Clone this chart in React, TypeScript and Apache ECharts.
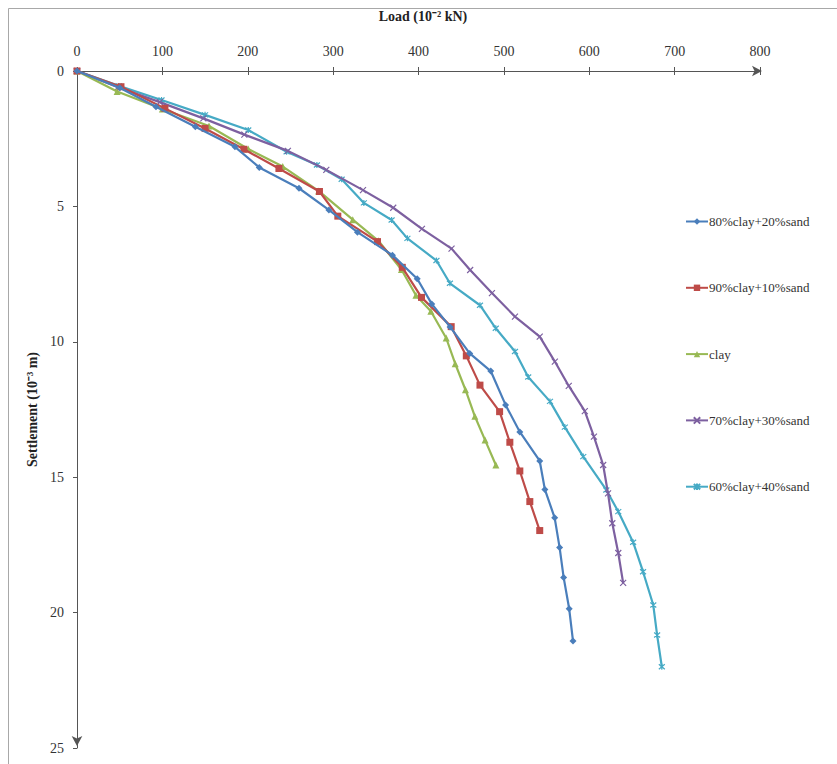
import React, { useEffect, useRef } from "react";
import * as echarts from "echarts";

const loadTicks = [0, 100, 200, 300, 400, 500, 600, 700, 800];
const settlementTicks = [0, 5, 10, 15, 20, 25];

const names = ["80%clay+20%sand", "90%clay+10%sand", "clay", "70%clay+30%sand", "60%clay+40%sand"];

const load80 = [0, 50, 92.5, 138.6, 185, 213.5, 260, 295, 328.5, 369.5, 398.5, 415.5, 437, 460, 484.6, 502, 518.7, 542, 548, 559.5, 565.3, 570, 576.5, 581];
const settle80 = [0, 0.62, 1.32, 2.06, 2.8, 3.56, 4.33, 5.13, 5.95, 6.8, 7.67, 8.6, 9.45, 10.43, 11.08, 12.33, 13.33, 14.4, 15.45, 16.5, 17.6, 18.7, 19.86, 21.05];

const load90 = [0, 51.5, 103, 150, 195.5, 236.5, 284, 305.5, 352, 381, 403.5, 438.3, 456, 472, 495, 507, 518.7, 530.4, 542];
const settle90 = [0, 0.58, 1.38, 2.12, 2.89, 3.6, 4.45, 5.36, 6.3, 7.25, 8.36, 9.44, 10.52, 11.6, 12.58, 13.71, 14.77, 15.9, 16.97];

const loadClay = [0, 47, 100, 154.6, 200.6, 241, 283, 323, 353, 380, 397, 414.5, 432.4, 443, 455, 466, 478, 490.6];
const settleClay = [0, 0.76, 1.4, 2.03, 2.88, 3.53, 4.43, 5.49, 6.27, 7.33, 8.28, 8.87, 9.86, 10.81, 11.77, 12.75, 13.63, 14.55];

const load70 = [0, 48, 97, 148, 196, 247, 292, 335, 370.4, 404, 438.7, 460.5, 486, 513, 542, 559.7, 576, 594.8, 605.5, 616.3, 622, 627, 634, 639.7];
const settle70 = [0, 0.6, 1.15, 1.75, 2.35, 2.95, 3.65, 4.4, 5.05, 5.83, 6.56, 7.35, 8.2, 9.07, 9.81, 10.73, 11.63, 12.56, 13.5, 14.55, 15.6, 16.7, 17.8, 18.9];

const load60 = [0, 49, 99, 150, 200.6, 245.5, 281, 310, 336, 368.5, 387, 421, 436.8, 472, 490.5, 513, 528.5, 554, 571.4, 593, 620, 634, 651.4, 663, 675, 679.5, 685];
const settle60 = [0, 0.55, 1.07, 1.62, 2.18, 2.98, 3.47, 4.0, 4.87, 5.5, 6.18, 7.0, 7.84, 8.65, 9.5, 10.36, 11.3, 12.2, 13.15, 14.24, 15.47, 16.27, 17.4, 18.49, 19.72, 20.83, 22.0];

const colors = ["#4A7EBB", "#BE4B48", "#98B954", "#7D60A0", "#46AAC5"];

const pairs = (xs: number[], ys: number[]) => xs.map((x, i) => [x, ys[i]]);

const xMark = "path://M0,0L10,10M10,0L0,10";
const starMark = "path://M0,0L10,10M10,0L0,10M5,-1L5,11";

export default function App() {
  const ref = useRef<HTMLDivElement>(null);
  useEffect(() => {
    if (!ref.current) return;
    const chart = echarts.init(ref.current, undefined, { renderer: "svg" });
    const font = "'Liberation Serif', 'Times New Roman', serif";
    const seriesData = [
      { d: pairs(load80, settle80), symbol: "diamond", size: 7, stroke: false },
      { d: pairs(load90, settle90), symbol: "rect", size: 7, stroke: false },
      { d: pairs(loadClay, settleClay), symbol: "triangle", size: 7, stroke: false },
      { d: pairs(load70, settle70), symbol: xMark, size: 6, stroke: true },
      { d: pairs(load60, settle60), symbol: starMark, size: 6, stroke: true },
    ];
    chart.setOption({
      animation: false,
      backgroundColor: "#fff",
      color: colors,
      textStyle: { fontFamily: font },
      grid: { left: 77, right: 77, top: 71, bottom: 16, containLabel: false },
      graphic: [
        {
          type: "polyline",
          shape: { points: [[8.5, 900], [8.5, 8.5], [900, 8.5]] },
          style: { fill: "none", stroke: "#a8a8a8", lineWidth: 1 },
          silent: true,
          z: 0,
        },
      ],
      title: [
        {
          text: "Load (10⁻² kN)",
          left: 418,
          top: 4,
          textAlign: "center",
          textStyle: { fontFamily: font, fontSize: 14, fontWeight: "bold", color: "#222" },
        },
      ],
      legend: {
        orient: "vertical",
        left: 680,
        top: 210,
        itemGap: 53.3,
        itemWidth: 22,
        itemHeight: 8,
        data: names,
        textStyle: { fontFamily: font, fontSize: 13, color: "#333", padding: [0, 0, 0, -4] },
      },
      xAxis: [
        {
          type: "value",
          position: "top",
          min: 0,
          max: 800,
          interval: 100,
          axisLine: {
            show: true,
            lineStyle: { color: "#555", width: 1 },
            symbol: ["none", "arrow"],
            symbolSize: [8, 10],
            symbolOffset: [0, 2],
          },
          axisTick: { show: true, length: 4, lineStyle: { color: "#555" } },
          axisLabel: { fontFamily: font, fontSize: 14, color: "#333", margin: 13, formatter: (v: number) => (loadTicks.includes(v) ? String(v) : "") },
          splitLine: { show: false },
        },
        {
          type: "value",
          position: "top",
          min: 0,
          max: 800,
          interval: 100,
          axisLine: { show: false },
          axisTick: { show: true, inside: true, length: 4, lineStyle: { color: "#555" } },
          axisLabel: { show: false },
          splitLine: { show: false },
        },
      ],
      yAxis: [
        {
          type: "value",
          inverse: true,
          min: 0,
          max: 25,
          interval: 5,
          name: "Settlement (10⁻³ m)",
          nameLocation: "middle",
          nameGap: 36,
          nameRotate: 90,
          nameTextStyle: { fontFamily: font, fontSize: 14, fontWeight: "bold", color: "#222" },
          axisLine: {
            show: true,
            lineStyle: { color: "#555", width: 1 },
            symbol: ["arrow", "none"],
            symbolSize: [8, 10],
            symbolOffset: [2, 0],
          },
          axisTick: { show: true, length: 4, lineStyle: { color: "#555" } },
          axisLabel: { fontFamily: font, fontSize: 14, color: "#333", margin: 13, formatter: (v: number) => (settlementTicks.includes(v) ? String(v) : "") },
          splitLine: { show: false },
        },
        {
          type: "value",
          inverse: true,
          min: 0,
          max: 25,
          interval: 5,
          axisLine: { show: false },
          axisTick: { show: true, inside: true, length: 4, lineStyle: { color: "#555" } },
          axisLabel: { show: false },
          splitLine: { show: false },
        },
      ],
      series: seriesData.map((s, i) => ({
        name: names[i],
        type: "line",
        xAxisIndex: 0,
        yAxisIndex: 0,
        data: s.d,
        symbol: s.symbol,
        symbolSize: s.size,
        showSymbol: true,
        lineStyle: { width: 2.2, color: colors[i] },
        itemStyle: s.stroke
          ? { color: colors[i], borderColor: colors[i], borderWidth: 1.2 }
          : { color: colors[i], borderWidth: 0 },
        z: 10 - i,
      })),
    });
    return () => chart.dispose();
  }, []);
  return <div ref={ref} style={{ position: "absolute", left: 0, top: 0, width: 837, height: 764 }} />;
}
